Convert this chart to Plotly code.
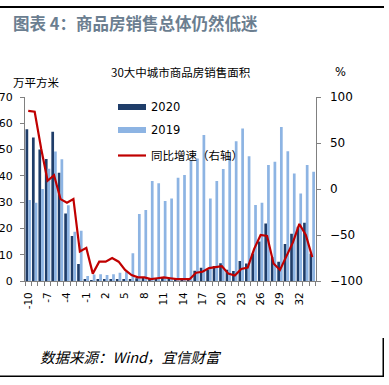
import plotly.graph_objects as go

# ---- data ----
categories = list(range(-10, 35))
sales_2020 = [57.7, 54.6, 50.0, 46.4, 56.8, 41.2, 25.7, 17.1, 6.5,
              0.7, 0.3,
              0.5, 0.5, 0.6, 0.6, 0.4,
              0.7, 1.0, 1.1, 0.8, 1.1, 1.2, 0.9, 0.8, 0.8, 0.9,
              3.9, 5.0, 4.4, 5.7, 6.8, 4.3, 3.8, 7.6, 6.7, 10.5,
              15.0, 21.9, 9.1, 7.3, 14.1, 18.0, 20.6, 22.2, 10.5]
sales_2019 = [30.8, 29.8, 35.0, 42.7, 49.3, 46.3, 28.8, 18.7, 19.1,
              1.9, 2.5,
              2.6, 2.3, 2.6, 3.1, 3.5,
              10.6, 25.5, 27.0, 38.0, 37.2, 30.4, 31.4, 39.3, 40.3, 46.0,
              46.6, 55.5, 31.4, 38.0, 42.6, 47.3, 53.2, 58.0, 47.5, 28.9,
              29.8, 44.1, 45.4, 58.6, 49.4, 40.9, 33.3, 44.1, 41.6]
yoy = [85, 84, 44, 9, 15, -11, -15, -11, -68, -64,
       -92,
       -79, -79, -75, -79, -88,
       -93.5, -96, -96, -98, -97, -96, -97, -98, -98, -98,
       -91, -90, -86, -85, -84, -92, -94, -87, -85.5, -65,
       -50, -51, -81, -88, -73, -58, -38, -50, -74]
tick_values = list(range(-10, 33, 3))
tick_labels = [str(v) for v in tick_values]

W, H = 389, 385
DARK = "#1f3d69"
LIGHT = "#8db4e3"
RED = "#c00000"
FONT = "DejaVu Sans, Noto Sans CJK SC"
CJK = "Noto Sans CJK SC"

def px(x):
    return x / W

def py(y):
    return 1 - y / H

fig = go.Figure()
fig.add_trace(go.Bar(x=categories, y=sales_2020, name="2020", marker_color=DARK,
                     marker_line_width=0, showlegend=False))
fig.add_trace(go.Bar(x=categories, y=sales_2019, name="2019", marker_color=LIGHT,
                     marker_line_width=0, showlegend=False))
fig.add_trace(go.Scatter(x=categories, y=yoy, name="同比增速（右轴）", mode="lines",
                         line=dict(color=RED, width=2.2), yaxis="y2", showlegend=False))

axis_color = "#808080"
fig.update_layout(
    template="none",
    width=W, height=H,
    margin=dict(l=0, r=0, t=0, b=0, pad=0, autoexpand=False),
    paper_bgcolor="white", plot_bgcolor="white",
    showlegend=False,
    barmode="group", bargap=0.16, bargroupgap=0.0,
    font=dict(family=FONT, color="black"),
    xaxis=dict(domain=[px(25), px(315.5)], range=[-10.5, 34.5], automargin=False,
               tickmode="array", tickvals=tick_values, ticktext=tick_labels,
               tickangle=-90, ticks="", tickfont=dict(size=10.5, family=FONT),
               showline=True, linecolor=axis_color, linewidth=1,
               showgrid=False, zeroline=False, ticklabelstandoff=6,
               minor=dict(tick0=-10.5, dtick=1, ticks="outside", ticklen=4,
                          tickcolor=axis_color, showgrid=False)),
    yaxis=dict(domain=[py(281), py(97)], range=[0, 70], dtick=10, automargin=False,
               ticks="outside", ticklen=4, tickcolor=axis_color,
               showline=True, linecolor=axis_color, linewidth=1,
               showgrid=False, zeroline=False, tickfont=dict(size=11, family=FONT),
               ticklabelstandoff=5),
    yaxis2=dict(overlaying="y", side="right", anchor="x", range=[-100, 100], dtick=50,
                automargin=False,
                ticks="outside", ticklen=4, tickcolor=axis_color,
                showline=True, linecolor=axis_color, linewidth=1,
                showgrid=False, zeroline=False, tickfont=dict(size=12, family=FONT),
                ticklabelstandoff=7),
)

shapes = [
    dict(type="line", xref="paper", yref="paper", x0=0, x1=px(384), y0=py(7), y1=py(7),
         line=dict(color="black", width=2)),
    dict(type="rect", xref="paper", yref="paper", x0=px(0), x1=px(384), y0=py(377), y1=py(375.5),
         fillcolor="black", line=dict(width=0)),
    dict(type="rect", xref="paper", yref="paper", x0=px(382.5), x1=px(384), y0=py(377), y1=py(338),
         fillcolor="black", line=dict(width=0)),
    # legend swatches
    dict(type="rect", xref="paper", yref="paper", x0=px(118), x1=px(146), y0=py(110), y1=py(104),
         fillcolor=DARK, line=dict(width=0)),
    dict(type="rect", xref="paper", yref="paper", x0=px(118), x1=px(146), y0=py(133), y1=py(127),
         fillcolor=LIGHT, line=dict(width=0)),
    dict(type="line", xref="paper", yref="paper", x0=px(118), x1=px(146), y0=py(155.5), y1=py(155.5),
         line=dict(color=RED, width=2.2)),
]
fig.update_layout(shapes=shapes)

def note(text, x, y, size, anchor="left", **kw):
    fig.add_annotation(text=text, x=px(x), y=py(y), xref="paper", yref="paper",
                       xanchor=anchor, yanchor="middle", showarrow=False,
                       font=dict(size=size, family=kw.pop("family", FONT), color=kw.pop("color", "black")),
                       **kw)

note("<b>图表 4：商品房销售总体仍然低迷</b>", 11, 23, 16.5, family=CJK, color="#6b7e90")
note("30大中城市商品房销售面积", 181, 72, 11.5, anchor="center", family=CJK)
note("万平方米", 11, 82, 11.5, family=CJK)
note("%", 333, 72, 11.5)
note("2020", 149, 107, 11.5)
note("2019", 149, 130, 11.5)
note("同比增速（右轴）", 149, 155, 11.5, family=CJK)
note("<i>数据来源：Wind，宜信财富</i>", 38, 356, 14.5, family=CJK)

fig.write_html("out.html", config={"displayModeBar": False},
               post_script="document.body.style.margin='0px';document.body.style.padding='0px';")
